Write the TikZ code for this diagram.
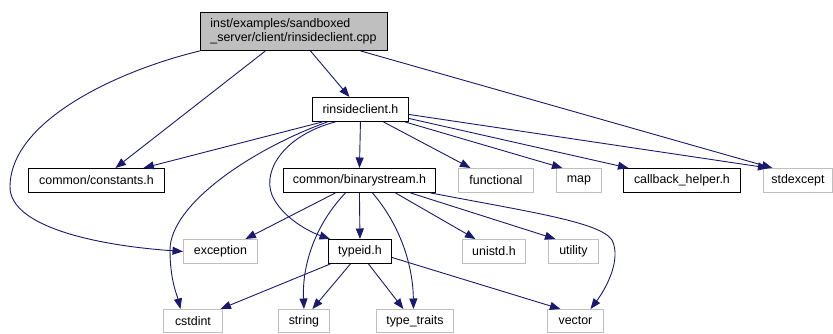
\documentclass[tikz,border=0pt]{standalone}
\usepackage{fontspec}
\setmainfont{Liberation Sans}
\usetikzlibrary{arrows.meta}
\definecolor{edgeblue}{HTML}{191970}
\definecolor{sysgray}{HTML}{BFBFBF}
\definecolor{topfill}{HTML}{BFBFBF}
\begin{document}
\begin{tikzpicture}[x=1pt,y=-1pt,
 box/.style={draw=black, line width=0.9pt, anchor=north west, inner sep=0pt, minimum height=24pt, font=\fontsize{12.4}{14}\selectfont},
 sysbox/.style={box, draw=sysgray},
 edge/.style={draw=edgeblue, line width=0.9pt, -{Triangle[length=10.5pt,width=8pt]}}
]
\useasboundingbox (0,0) rectangle (833,333);
% nodes
\node[box, fill=topfill, minimum width=187pt, minimum height=38pt, text width=167pt, align=left, inner xsep=10pt] (top) at (200,12) {inst/examples/sandboxed\\\_server/client/rinsideclient.cpp};
\node[box, minimum width=96pt] (rc) at (312,97) {rinsideclient.h};
\node[box, minimum width=136pt] (constants) at (28,168) {common/constants.h};
\node[box, minimum width=152pt] (bs) at (283,168) {common/binarystream.h};
\node[sysbox, minimum width=75pt] (functional) at (458,168) {functional};
\node[sysbox, minimum width=45pt] (map) at (556,168) {map};
\node[box, minimum width=117pt] (callback) at (623,168) {callback\_helper.h};
\node[sysbox, minimum width=69pt] (stdexcept) at (763,168) {stdexcept};
\node[sysbox, minimum width=74pt] (exception) at (183,239) {exception};
\node[box, minimum width=63pt] (typeid) at (328,239) {typeid.h};
\node[sysbox, minimum width=63pt] (unistd) at (462,239) {unistd.h};
\node[sysbox, minimum width=50pt] (utility) at (548,239) {utility};
\node[sysbox, minimum width=59pt, minimum height=23pt] (cstdint) at (163,309) {cstdint};
\node[sysbox, minimum width=51pt, minimum height=23pt] (string) at (278,309) {string};
\node[sysbox, minimum width=77pt, minimum height=23pt] (tt) at (376,309) {type\_traits};
\node[sysbox, minimum width=56pt, minimum height=23pt] (vector) at (547,309) {vector};
% edges from top
\draw[edge] ([xshift=-28.5pt]top.south) -- ([xshift=19pt]constants.north);
\draw[edge] (top.south west) .. controls (120,70) and (10,120) .. (10,187) .. controls (10,225) and (90,245) .. (exception.west);
\draw[edge] ([xshift=16.5pt]top.south) -- ([xshift=-11pt]rc.north);
\draw[edge] ([xshift=66.5pt]top.south) -- ([xshift=-25.5pt]stdexcept.north);
% edges from rinsideclient.h
\draw[edge] ([xshift=-38pt]rc.south) -- ([xshift=47pt]constants.north);
\draw[edge] (rc.south) -- (bs.north);
\draw[edge] ([xshift=23pt]rc.south) -- ([xshift=-25.5pt]functional.north);
\draw[edge] ([xshift=-4pt]rc.south east) -- ([xshift=-16.5pt]map.north);
\draw[edge] ([yshift=-9pt]rc.east) -- ([xshift=-53.5pt]callback.north);
\draw[edge] ([yshift=-5pt]rc.east) -- ([xshift=-29.5pt]stdexcept.north);
\draw[edge] ([xshift=-33pt]rc.south) .. controls (250,150) and (170,205) .. (170,250) .. controls (170,280) and (177,295) .. ([xshift=-12.5pt]cstdint.north);
\draw[edge] ([xshift=-25pt]rc.south) .. controls (285,135) and (262,170) .. (272,195) .. controls (282,218) and (310,232) .. ([xshift=2pt]typeid.north west);
% edges from binarystream
\draw[edge] ([xshift=-24pt]bs.south) -- ([xshift=25pt]exception.north);
\draw[edge] (bs.south) -- (typeid.north);
\draw[edge] ([xshift=-14pt]bs.south) .. controls (315,225) and (302,265) .. (string.north);
\draw[edge] ([xshift=13pt]bs.south) .. controls (400,225) and (413,265) .. ([xshift=-1.5pt]tt.north);
\draw[edge] ([xshift=36pt]bs.south) -- ([xshift=-18.5pt]unistd.north);
\draw[edge] ([xshift=51pt]bs.south) -- ([xshift=-18pt]utility.north);
\draw[edge] ([xshift=71pt]bs.south) .. controls (530,212) and (600,222) .. (612,240) .. controls (622,260) and (605,290) .. ([xshift=15pt]vector.north);
% edges from typeid.h
\draw[edge] ([xshift=-29.5pt]typeid.south) -- ([xshift=27.5pt]cstdint.north);
\draw[edge] ([xshift=-9.5pt]typeid.south) -- ([xshift=8.5pt]string.north);
\draw[edge] ([xshift=8.5pt]typeid.south) -- ([xshift=-11.5pt]tt.north);
\draw[edge] ([yshift=-6pt]typeid.east) -- ([xshift=-15pt]vector.north);
\end{tikzpicture}
\end{document}
